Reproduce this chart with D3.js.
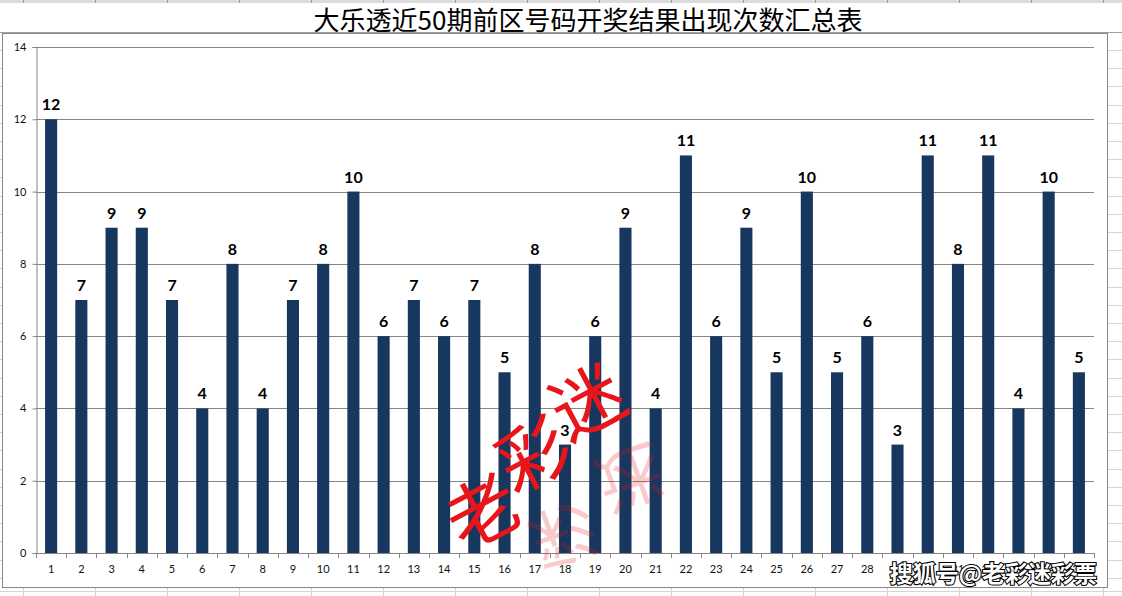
<!DOCTYPE html>
<html><head><meta charset="utf-8">
<script src="https://cdn.jsdelivr.net/npm/d3@7/dist/d3.min.js"></script>
<style>body{margin:0;background:#fff}svg{display:block}</style>
</head><body>
<svg id="c" width="1122" height="596"></svg>
<script>
const title = "大乐透近50期前区号码开奖结果出现次数汇总表";
const categories = d3.range(1, 36).map(String);
const counts = [12,7,9,9,7,4,8,4,7,8,10,6,7,6,7,5,8,3,6,9,4,11,6,9,5,10,5,6,3,11,8,11,4,10,5];
const yTicks = [0,2,4,6,8,10,12,14];

const svg = d3.select("#c");
const W = 1122, H = 596;

// spreadsheet background
const sheet = svg.append("g");
sheet.append("rect").attr("x",0).attr("y",0).attr("width",W).attr("height",3).attr("fill","#dcdcdc");
const colXs = d3.range(23, W, 72);
colXs.forEach(x => {
  sheet.append("line").attr("x1",x+0.5).attr("x2",x+0.5).attr("y1",0).attr("y2",3).attr("stroke","#9a9a9a");
  sheet.append("line").attr("x1",x+0.5).attr("x2",x+0.5).attr("y1",588).attr("y2",H).attr("stroke","#d4d4d4");
});
d3.range(50, H, 18.2).forEach(y => {
  sheet.append("line").attr("x1",1108).attr("x2",W).attr("y1",Math.round(y)+0.5).attr("y2",Math.round(y)+0.5).attr("stroke","#d4d4d4");
  sheet.append("line").attr("x1",0).attr("x2",2).attr("y1",Math.round(y)+0.5).attr("y2",Math.round(y)+0.5).attr("stroke","#d4d4d4");
});
sheet.append("line").attr("x1",0).attr("x2",W).attr("y1",591.5).attr("y2",591.5).attr("stroke","#d4d4d4");
sheet.append("line").attr("x1",0).attr("x2",W).attr("y1",32.5).attr("y2",32.5).attr("stroke","#a0a0a0");

// title
svg.append("text").attr("x",588).attr("y",30).attr("text-anchor","middle")
  .attr("font-family","'Noto Sans CJK SC'").attr("font-size",26).attr("fill","#000")
  .text(title);

// chart area
svg.append("rect").attr("x",2.5).attr("y",33.5).attr("width",1105).attr("height",554)
  .attr("fill","#fff").attr("stroke","#888");

const x = d3.scaleBand().domain(categories).range([36, 1094]).paddingInner(0.6).paddingOuter(0.3);
const y = d3.scaleLinear().domain([0,14]).range([553, 47]);

// gridlines
svg.append("g").selectAll("line").data(yTicks.filter(d=>d>0)).join("line")
  .attr("x1",36).attr("x2",1094).attr("y1",d=>Math.round(y(d))+0.5).attr("y2",d=>Math.round(y(d))+0.5)
  .attr("stroke","#868686");

// y axis
const ya = svg.append("g").attr("transform","translate(36.5,0)")
  .call(d3.axisLeft(y).tickValues(yTicks).tickSize(4).tickPadding(6));
ya.select(".domain").attr("stroke","#868686");
ya.selectAll(".tick line").attr("stroke","#868686");
ya.selectAll("text").attr("font-family","Lato, 'Open Sans', sans-serif").attr("font-size",11).attr("fill","#111");

// x axis
const xa = svg.append("g").attr("transform","translate(0,553.5)")
  .call(d3.axisBottom(x).tickSize(0).tickPadding(12));
xa.select(".domain").attr("stroke","#868686").attr("d","M36,0H1094");
xa.selectAll("text").attr("font-family","Lato, 'Open Sans', sans-serif").attr("font-size",11).attr("fill","#111");
svg.append("g").selectAll("line").data(d3.range(0, 36)).join("line")
  .attr("x1",i=>Math.round(36 + i*x.step())+0.5).attr("x2",i=>Math.round(36 + i*x.step())+0.5)
  .attr("y1",553).attr("y2",558).attr("stroke","#868686");

// bars
svg.append("g").selectAll("rect").data(counts).join("rect")
  .attr("x",(d,i)=>x(categories[i])).attr("width",x.bandwidth())
  .attr("y",d=>y(d)).attr("height",d=>553-y(d)).attr("fill","#17375e");

// red watermark
const wm2 = svg.append("g").attr("font-family","'Noto Sans CJK SC'").attr("fill","#e8151b").attr("font-size",66).attr("opacity",0.22);
[["彩",555,512,160],["迷",622,455,160]].forEach(([t,cx,cy,r])=>{
  wm2.append("text").attr("transform",`translate(${cx},${cy}) rotate(${r}) scale(-1,1)`).attr("text-anchor","middle").text(t);
});
const wm = svg.append("g").attr("font-family","'Noto Sans CJK SC'").attr("fill","#e8151b").attr("font-size",72);
[["老",495,535,-28],["彩",546,478,-28],["迷",600,425,-28]].forEach(([t,cx,cy,r])=>{
  wm.append("text").attr("transform",`translate(${cx},${cy}) rotate(${r})`).attr("text-anchor","middle").text(t);
});

// labels
svg.append("g").selectAll("text").data(counts).join("text")
  .attr("x",(d,i)=>x(categories[i])+x.bandwidth()/2).attr("y",d=>y(d)-9)
  .attr("text-anchor","middle").attr("font-family","Lato, 'Open Sans', sans-serif")
  .attr("font-weight","bold").attr("font-size",16).attr("fill","#000").text(d=>d);

// bottom-right watermark
svg.append("text").attr("x",1097).attr("y",582).attr("text-anchor","end")
  .attr("font-family","'Noto Sans CJK SC'").attr("font-weight","bold").attr("font-size",23)
  .attr("fill","#fff").attr("stroke","#000").attr("stroke-width",2.2).attr("paint-order","stroke")
  .text("搜狐号@老彩迷彩票");
</script>
</body></html>
